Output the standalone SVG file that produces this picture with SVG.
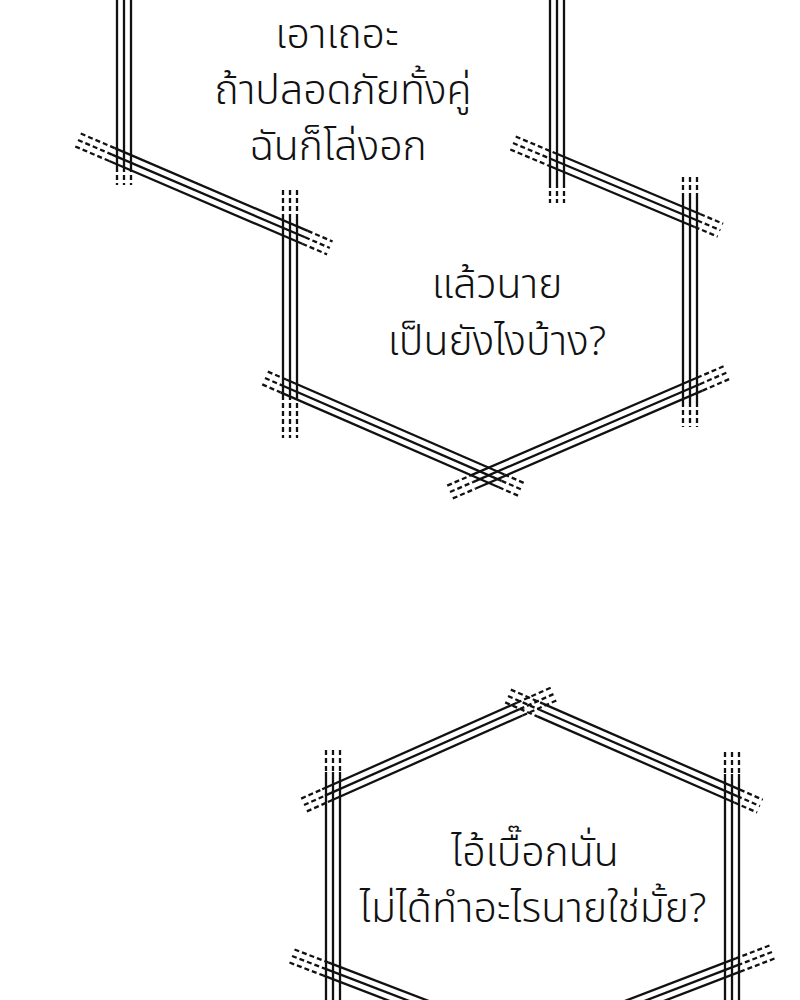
<svg xmlns="http://www.w3.org/2000/svg" width="800" height="1000" viewBox="0 0 800 1000">
<style>
.s{stroke:#111;stroke-width:2.3;fill:none}
.d{stroke:#111;stroke-width:2.3;fill:none;stroke-dasharray:5 3}
.t{font-family:"Noto Sans Thai","Noto Sans","DejaVu Sans",sans-serif;font-size:41px;font-weight:300;fill:#111;text-anchor:middle}
</style>
<rect width="800" height="1000" fill="#fff"/>
<g id="bubble1">
<g transform="translate(124,-5) rotate(90)">
<line class="s" x1="0" y1="-7" x2="172" y2="-7"/><line class="s" x1="0" y1="0" x2="172" y2="0"/><line class="s" x1="0" y1="7" x2="172" y2="7"/>
<line class="d" x1="172" y1="-7" x2="190" y2="-7"/><line class="d" x1="172" y1="0" x2="190" y2="0"/><line class="d" x1="172" y1="7" x2="190" y2="7"/>
</g>
<g transform="translate(78,140) rotate(23.2)">
<line class="d" x1="0" y1="-7" x2="37" y2="-7"/><line class="d" x1="0" y1="0" x2="37" y2="0"/><line class="d" x1="0" y1="7" x2="37" y2="7"/>
<line class="s" x1="37" y1="-7" x2="247" y2="-7"/><line class="s" x1="37" y1="0" x2="247" y2="0"/><line class="s" x1="37" y1="7" x2="247" y2="7"/>
<line class="d" x1="247" y1="-7" x2="274" y2="-7"/><line class="d" x1="247" y1="0" x2="274" y2="0"/><line class="d" x1="247" y1="7" x2="274" y2="7"/>
</g>
<g transform="translate(290,190) rotate(90)">
<line class="d" x1="0" y1="-7" x2="25" y2="-7"/><line class="d" x1="0" y1="0" x2="25" y2="0"/><line class="d" x1="0" y1="7" x2="25" y2="7"/>
<line class="s" x1="25" y1="-7" x2="205" y2="-7"/><line class="s" x1="25" y1="0" x2="205" y2="0"/><line class="s" x1="25" y1="7" x2="205" y2="7"/>
<line class="d" x1="205" y1="-7" x2="248" y2="-7"/><line class="d" x1="205" y1="0" x2="248" y2="0"/><line class="d" x1="205" y1="7" x2="248" y2="7"/>
</g>
<g transform="translate(265,378) rotate(23.5)">
<line class="d" x1="0" y1="-7" x2="20" y2="-7"/><line class="d" x1="0" y1="0" x2="20" y2="0"/><line class="d" x1="0" y1="7" x2="20" y2="7"/>
<line class="s" x1="20" y1="-7" x2="258" y2="-7"/><line class="s" x1="20" y1="0" x2="258" y2="0"/><line class="s" x1="20" y1="7" x2="258" y2="7"/>
<line class="d" x1="258" y1="-7" x2="280" y2="-7"/><line class="d" x1="258" y1="0" x2="280" y2="0"/><line class="d" x1="258" y1="7" x2="280" y2="7"/>
</g>
<g transform="translate(450,492) rotate(-23.35)">
<line class="d" x1="0" y1="-7" x2="25" y2="-7"/><line class="d" x1="0" y1="0" x2="25" y2="0"/><line class="d" x1="0" y1="7" x2="25" y2="7"/>
<line class="s" x1="25" y1="-7" x2="272" y2="-7"/><line class="s" x1="25" y1="0" x2="272" y2="0"/><line class="s" x1="25" y1="7" x2="272" y2="7"/>
<line class="d" x1="272" y1="-7" x2="303" y2="-7"/><line class="d" x1="272" y1="0" x2="303" y2="0"/><line class="d" x1="272" y1="7" x2="303" y2="7"/>
</g>
<g transform="translate(690,177) rotate(90)">
<line class="d" x1="0" y1="-7" x2="20" y2="-7"/><line class="d" x1="0" y1="0" x2="20" y2="0"/><line class="d" x1="0" y1="7" x2="20" y2="7"/>
<line class="s" x1="20" y1="-7" x2="225" y2="-7"/><line class="s" x1="20" y1="0" x2="225" y2="0"/><line class="s" x1="20" y1="7" x2="225" y2="7"/>
<line class="d" x1="225" y1="-7" x2="250" y2="-7"/><line class="d" x1="225" y1="0" x2="250" y2="0"/><line class="d" x1="225" y1="7" x2="250" y2="7"/>
</g>
<g transform="translate(513,143) rotate(22.8)">
<line class="d" x1="0" y1="-7" x2="40" y2="-7"/><line class="d" x1="0" y1="0" x2="40" y2="0"/><line class="d" x1="0" y1="7" x2="40" y2="7"/>
<line class="s" x1="40" y1="-7" x2="200" y2="-7"/><line class="s" x1="40" y1="0" x2="200" y2="0"/><line class="s" x1="40" y1="7" x2="200" y2="7"/>
<line class="d" x1="200" y1="-7" x2="225" y2="-7"/><line class="d" x1="200" y1="0" x2="225" y2="0"/><line class="d" x1="200" y1="7" x2="225" y2="7"/>
</g>
<g transform="translate(557,-5) rotate(90)">
<line class="s" x1="0" y1="-7" x2="188" y2="-7"/><line class="s" x1="0" y1="0" x2="188" y2="0"/><line class="s" x1="0" y1="7" x2="188" y2="7"/>
<line class="d" x1="188" y1="-7" x2="208" y2="-7"/><line class="d" x1="188" y1="0" x2="208" y2="0"/><line class="d" x1="188" y1="7" x2="208" y2="7"/>
</g>
<text class="t" x="337" y="48">เอาเถอะ</text>
<text class="t" x="343" y="104">ถ้าปลอดภัยทั้งคู่</text>
<text class="t" x="338" y="160">ฉันก็โล่งอก</text>
<text class="t" x="497" y="298">แล้วนาย</text>
<text class="t" x="497" y="355">เป็นยังไงบ้าง?</text>
</g>
<g id="bubble2">
<g transform="translate(304,805) rotate(-23.96)">
<line class="d" x1="0" y1="-7" x2="23" y2="-7"/><line class="d" x1="0" y1="0" x2="23" y2="0"/><line class="d" x1="0" y1="7" x2="23" y2="7"/>
<line class="s" x1="23" y1="-7" x2="236" y2="-7"/><line class="s" x1="23" y1="0" x2="236" y2="0"/><line class="s" x1="23" y1="7" x2="236" y2="7"/>
<line class="d" x1="236" y1="-7" x2="276" y2="-7"/><line class="d" x1="236" y1="0" x2="276" y2="0"/><line class="d" x1="236" y1="7" x2="276" y2="7"/>
</g>
<g transform="translate(508,696) rotate(23.6)">
<line class="d" x1="0" y1="-7" x2="35" y2="-7"/><line class="d" x1="0" y1="0" x2="35" y2="0"/><line class="d" x1="0" y1="7" x2="35" y2="7"/>
<line class="s" x1="35" y1="-7" x2="250" y2="-7"/><line class="s" x1="35" y1="0" x2="250" y2="0"/><line class="s" x1="35" y1="7" x2="250" y2="7"/>
<line class="d" x1="250" y1="-7" x2="275" y2="-7"/><line class="d" x1="250" y1="0" x2="275" y2="0"/><line class="d" x1="250" y1="7" x2="275" y2="7"/>
</g>
<g transform="translate(333,750) rotate(90)">
<line class="d" x1="0" y1="-7" x2="22" y2="-7"/><line class="d" x1="0" y1="0" x2="22" y2="0"/><line class="d" x1="0" y1="7" x2="22" y2="7"/>
<line class="s" x1="22" y1="-7" x2="260" y2="-7"/><line class="s" x1="22" y1="0" x2="260" y2="0"/><line class="s" x1="22" y1="7" x2="260" y2="7"/>
</g>
<g transform="translate(732,752) rotate(90)">
<line class="d" x1="0" y1="-7" x2="22" y2="-7"/><line class="d" x1="0" y1="0" x2="22" y2="0"/><line class="d" x1="0" y1="7" x2="22" y2="7"/>
<line class="s" x1="22" y1="-7" x2="260" y2="-7"/><line class="s" x1="22" y1="0" x2="260" y2="0"/><line class="s" x1="22" y1="7" x2="260" y2="7"/>
</g>
<g transform="translate(292,956) rotate(21)">
<line class="d" x1="0" y1="-7" x2="36" y2="-7"/><line class="d" x1="0" y1="0" x2="36" y2="0"/><line class="d" x1="0" y1="7" x2="36" y2="7"/>
<line class="s" x1="36" y1="-7" x2="200" y2="-7"/><line class="s" x1="36" y1="0" x2="200" y2="0"/><line class="s" x1="36" y1="7" x2="200" y2="7"/>
</g>
<g transform="translate(772,952) rotate(159)">
<line class="d" x1="0" y1="-7" x2="36" y2="-7"/><line class="d" x1="0" y1="0" x2="36" y2="0"/><line class="d" x1="0" y1="7" x2="36" y2="7"/>
<line class="s" x1="36" y1="-7" x2="200" y2="-7"/><line class="s" x1="36" y1="0" x2="200" y2="0"/><line class="s" x1="36" y1="7" x2="200" y2="7"/>
</g>
<text class="t" x="535" y="866">ไอ้เบื๊อกนั่น</text>
<text class="t" x="533" y="922">ไม่ได้ทำอะไรนายใช่มั้ย?</text>
</g>
</svg>
